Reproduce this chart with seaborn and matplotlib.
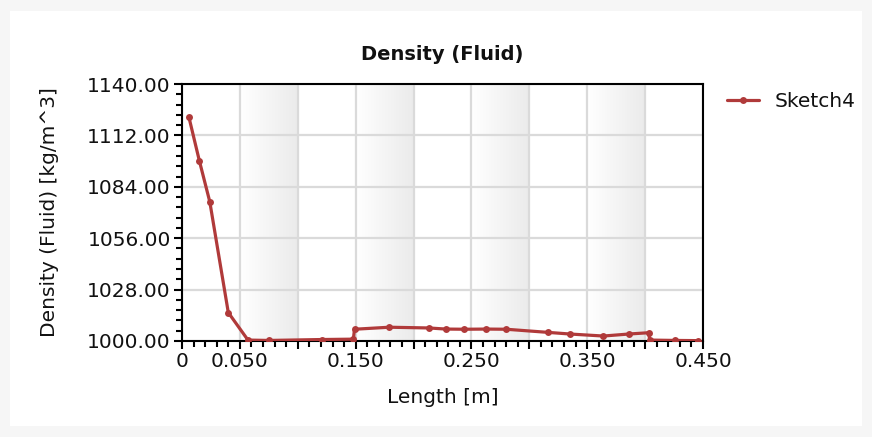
import numpy as np
import pandas as pd
import matplotlib
matplotlib.use("Agg")
import matplotlib.pyplot as plt
from matplotlib.ticker import AutoMinorLocator, MultipleLocator
import seaborn as sns

# ---- data ----
length_m = [0.006, 0.015, 0.024, 0.040, 0.057, 0.075, 0.121, 0.148,
            0.149, 0.179, 0.213, 0.228, 0.244, 0.263, 0.280, 0.316,
            0.335, 0.364, 0.386, 0.403, 0.404, 0.426, 0.446]
density = [1121.9, 1098.2, 1075.9, 1015.5, 1000.5, 1000.3, 1000.8, 1001.0,
           1006.4, 1007.5, 1007.1, 1006.5, 1006.4, 1006.5, 1006.4, 1004.7,
           1003.8, 1002.7, 1003.8, 1004.5, 1000.5, 1000.3, 1000.2]
series_name = "Sketch4"
x_ticks = [0.0, 0.05, 0.10, 0.15, 0.20, 0.25, 0.30, 0.35, 0.40, 0.45]
x_tick_labels = ["0", "0.050", "", "0.150", "", "0.250", "", "0.350", "", "0.450"]
y_ticks = [1000, 1028, 1056, 1084, 1112, 1140]
y_tick_labels = ["1000.00", "1028.00", "1056.00", "1084.00", "1112.00", "1140.00"]
shaded_bands = [(0.05, 0.10), (0.15, 0.20), (0.25, 0.30), (0.35, 0.40)]

df = pd.DataFrame({"Length [m]": length_m, "Density": density, "series": series_name})

sns.set_theme(style="white")
plt.rcParams['font.family'] = ['DejaVu Sans']

fig = plt.figure(figsize=(8.72, 4.37), dpi=100, facecolor="#f6f6f6")
fig.patches.append(matplotlib.patches.Rectangle((0.012, 0.025), 0.976, 0.95,
                   transform=fig.transFigure, facecolor="white", edgecolor="none", zorder=-10))
ax = fig.add_axes([0.2087, 0.2197, 0.5975, 0.588])
ax.set_facecolor("white")

# gradient bands
grad = np.linspace(0, 1, 64).reshape(1, -1)
cmap = matplotlib.colors.LinearSegmentedColormap.from_list("g", ["#ffffff", "#ebebeb"])
for a, b in shaded_bands:
    ax.imshow(grad, extent=(a, b, 1000, 1140), aspect="auto", cmap=cmap, zorder=0)

sns.lineplot(data=df, x="Length [m]", y="Density", hue="series",
             palette=["#b03a3a"], sort=False, estimator=None, marker="o",
             markersize=5, markeredgewidth=0, linewidth=2.3, ax=ax, zorder=3)

ax.set_xlim(0, 0.45)
ax.set_ylim(1000, 1140)
ax.set_xticks(x_ticks)
ax.set_xticklabels(x_tick_labels)
ax.set_yticks(y_ticks)
ax.set_yticklabels(y_tick_labels)
ax.xaxis.set_minor_locator(MultipleLocator(0.01))
ax.yaxis.set_minor_locator(AutoMinorLocator(5))
ax.grid(True, which="major", color="#dadada", linewidth=1.6, zorder=1)
ax.set_axisbelow(True)
ax.tick_params(axis="both", which="major", direction="out", length=6, width=1.5,
               color="black", labelsize=14.5, labelcolor="#111111", pad=2,
               bottom=True, left=True)
ax.tick_params(axis="both", which="minor", direction="out", length=4, width=1.5,
               color="black", bottom=True, left=True)
for s in ax.spines.values():
    s.set_color("black")
    s.set_linewidth(1.5)

ax.set_xlabel("Length [m]", fontsize=14.5, color="#111111", labelpad=12)
ax.set_ylabel("Density (Fluid) [kg/m^3]", fontsize=14.5, color="#111111", labelpad=20)
ax.set_title("Density (Fluid)", fontsize=14, fontweight="bold", color="#111111", pad=17)

leg = ax.legend(loc="upper left", bbox_to_anchor=(1.03, 1.0), frameon=False,
                fontsize=14.5, handlelength=1.6, borderaxespad=0)
for t in leg.get_texts():
    t.set_color("#111111")

fig.savefig("out.png", dpi=100, facecolor=fig.get_facecolor())
